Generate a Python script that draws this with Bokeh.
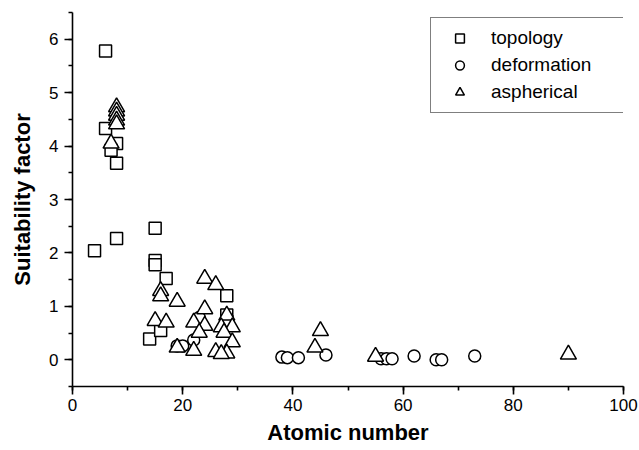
from bokeh.plotting import figure
from bokeh.models import SingleIntervalTicker, Range1d
from bokeh.embed import file_html
from bokeh.resources import INLINE

# ---- data ----
topo_z = [6, 6, 8, 7, 8, 4, 8, 15, 15, 15, 17, 28, 28, 28, 14, 16]
topo_s = [5.78, 4.33, 4.05, 3.92, 3.68, 2.04, 2.27, 2.46, 1.86, 1.78, 1.52, 1.20, 0.84, 0.72, 0.39, 0.55]

def_z = [19, 20, 22, 23, 38, 39, 41, 46, 56, 57, 58, 62, 66, 67, 73]
def_s = [0.26, 0.26, 0.37, 0.79, 0.05, 0.04, 0.04, 0.09, 0.02, 0.02, 0.02, 0.07, 0.0, 0.0, 0.07]

asph_z = [8, 8, 8, 8, 8, 7, 16, 16, 19, 24, 26, 24, 15, 17, 22, 24, 23, 28, 27, 29,
          27.5, 29, 19, 22, 26, 28, 27, 45, 44, 55, 90]
asph_s = [4.73, 4.65, 4.57, 4.48, 4.41, 4.05, 1.29, 1.19, 1.09, 1.52, 1.40, 0.95, 0.73, 0.70,
          0.70, 0.64, 0.51, 0.83, 0.61, 0.61, 0.51, 0.33, 0.23, 0.17, 0.15, 0.12, 0.11, 0.54,
          0.23, 0.06, 0.10]

x_label = "Atomic number"
y_label = "Suitability factor"

FONT = "Liberation Sans"

p = figure(width=639, height=450, output_backend="svg", toolbar_location=None,
           x_range=Range1d(0, 100), y_range=Range1d(-0.5, 6.5),
           min_border_left=72, min_border_right=16, min_border_top=12, min_border_bottom=64,
           background_fill_color="white", border_fill_color="white")
p.xgrid.visible = False
p.ygrid.visible = False
p.outline_line_color = None

p.xaxis.ticker = SingleIntervalTicker(interval=20, num_minor_ticks=2)
p.yaxis.ticker = SingleIntervalTicker(interval=1, num_minor_ticks=2)
p.xaxis.axis_label = x_label
p.yaxis.axis_label = y_label

for ax in (p.xaxis[0], p.yaxis[0]):
    ax.axis_line_color = "black"
    ax.axis_line_width = 1.6
    ax.major_tick_line_color = "black"
    ax.minor_tick_line_color = "black"
    ax.major_tick_line_width = 1.6
    ax.minor_tick_line_width = 1.6
    ax.major_tick_out = 8
    ax.major_tick_in = 0
    ax.minor_tick_out = 4
    ax.minor_tick_in = 0
    ax.major_label_text_font = FONT
    ax.major_label_text_font_size = "17px"
    ax.major_label_text_color = "black"
    ax.axis_label_text_font = FONT
    ax.axis_label_text_font_style = "bold"
    ax.axis_label_text_font_size = "22px"
    ax.axis_label_text_color = "black"

p.xaxis.major_label_standoff = 4
p.xaxis.axis_label_standoff = 6
p.yaxis.major_label_standoff = 6
p.yaxis.axis_label_standoff = 11

common = dict(fill_color="white", line_color="black", line_width=1.5)
p.scatter(topo_z, topo_s, marker="square", size=12, legend_label="topology", **common)
p.scatter(def_z, def_s, marker="circle", size=12, legend_label="deformation", **common)
p.scatter(asph_z, asph_s, marker="triangle", size=16, legend_label="aspherical", **common)

lg = p.legend[0]
lg.location = (358, 273)
lg.margin = 0
lg.padding = 9
lg.spacing = 5
lg.label_height = 22
lg.glyph_height = 22
lg.glyph_width = 39
lg.label_standoff = 12
lg.label_width = 123
lg.border_line_color = "black"
lg.border_line_width = 1.2
lg.background_fill_color = "white"
lg.background_fill_alpha = 1
lg.label_text_font = FONT
lg.label_text_font_size = "19px"
lg.label_text_color = "black"

open("out.html", "w").write(file_html(p, INLINE))
